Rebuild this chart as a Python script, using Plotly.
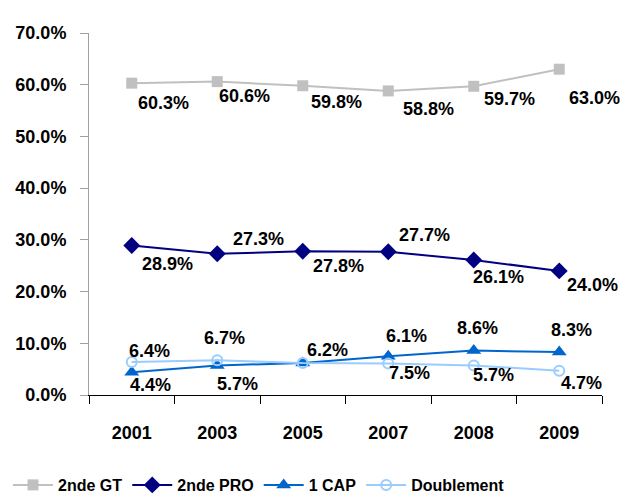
import plotly.graph_objects as go

years = ["2001", "2003", "2005", "2007", "2008", "2009"]
gt = [60.3, 60.6, 59.8, 58.8, 59.7, 63.0]
pro = [28.9, 27.3, 27.8, 27.7, 26.1, 24.0]
cap = [4.4, 5.7, 6.2, 7.5, 8.6, 8.3]
doub = [6.4, 6.7, 6.2, 6.1, 5.7, 4.7]
y_ticks = [0, 10, 20, 30, 40, 50, 60, 70]

# label offsets (pixels) per point: (xshift, yshift up)
gt_off = [(32, -20), (27, -14), (34, -16), (40, -18), (36, -13), (35, -29)]
pro_off = [(36, -18), (41, 15), (36, -15), (36, 17), (25, -17), (33, -14)]
cap_off = [(19, -13), (20, -18), None, (21, -17), (4, 23), (12, 22)]
doub_off = [(18, 11), (7, 22), (25, 13), (18, 27), (20, -9), (22, -12)]

series = [
    ("2nde GT", gt, "#c0c0c0", dict(symbol="square", size=11, color="#c0c0c0"), gt_off),
    ("2nde PRO", pro, "#000080", dict(symbol="diamond", size=13, color="#000080"), pro_off),
    ("1 CAP", cap, "#0066cc", dict(symbol="triangle-up", size=13, color="#0066cc"), cap_off),
    ("Doublement", doub, "#99ccff", dict(symbol="circle-open", size=10, color="#99ccff",
                                           line=dict(width=2, color="#99ccff")), doub_off),
]

font_family = "Liberation Sans, Arial, sans-serif"
bold = dict(family=font_family, size=18, color="black", weight="bold")
legend_font = dict(family=font_family, size=16, color="black", weight="bold")
fig = go.Figure()
annotations = []
for name, vals, color, marker, offs in series:
    fig.add_trace(go.Scatter(x=years, y=vals, name=name, mode="lines+markers",
                             line=dict(color=color, width=2), marker=marker))
    for i, (v, o) in enumerate(zip(vals, offs)):
        if o is None:
            continue
        annotations.append(dict(x=i, y=v, xref="x", yref="y", text=f"{v:.1f}%",
                                showarrow=False, xshift=o[0], yshift=o[1], font=bold))

fig.update_layout(
    width=622, height=494,
    margin=dict(l=81, r=28, t=25, b=107),
    plot_bgcolor="white", paper_bgcolor="white",
    font=bold,
    annotations=annotations,
    showlegend=True,
    legend=dict(orientation="h", xref="container", yref="container",
                x=0.0, y=0.0, xanchor="left", yanchor="bottom",
                font=legend_font, itemwidth=40, tracegroupgap=0, traceorder="normal"),
)
fig.update_xaxes(type="category", range=[-0.5, len(years) - 0.5], autorange=False,
                 automargin=False,
                 showline=True, linecolor="black", linewidth=1,
                 ticks="outside", tickson="boundaries", ticklen=8, tickcolor="black",
                 showgrid=False, ticklabelstandoff=21, tickangle=0, tickfont=bold)
fig.update_yaxes(range=[0, 70], autorange=False, automargin=False, tickvals=y_ticks,
                 ticktext=[f"{t:.1f}%" for t in y_ticks],
                 showline=True, linecolor="#a0a0a0", linewidth=1,
                 ticks="outside", ticklen=8, tickcolor="#a0a0a0", showgrid=False,
                 zeroline=False, ticklabelstandoff=10, tickfont=bold)
fig.write_html("out.html")
